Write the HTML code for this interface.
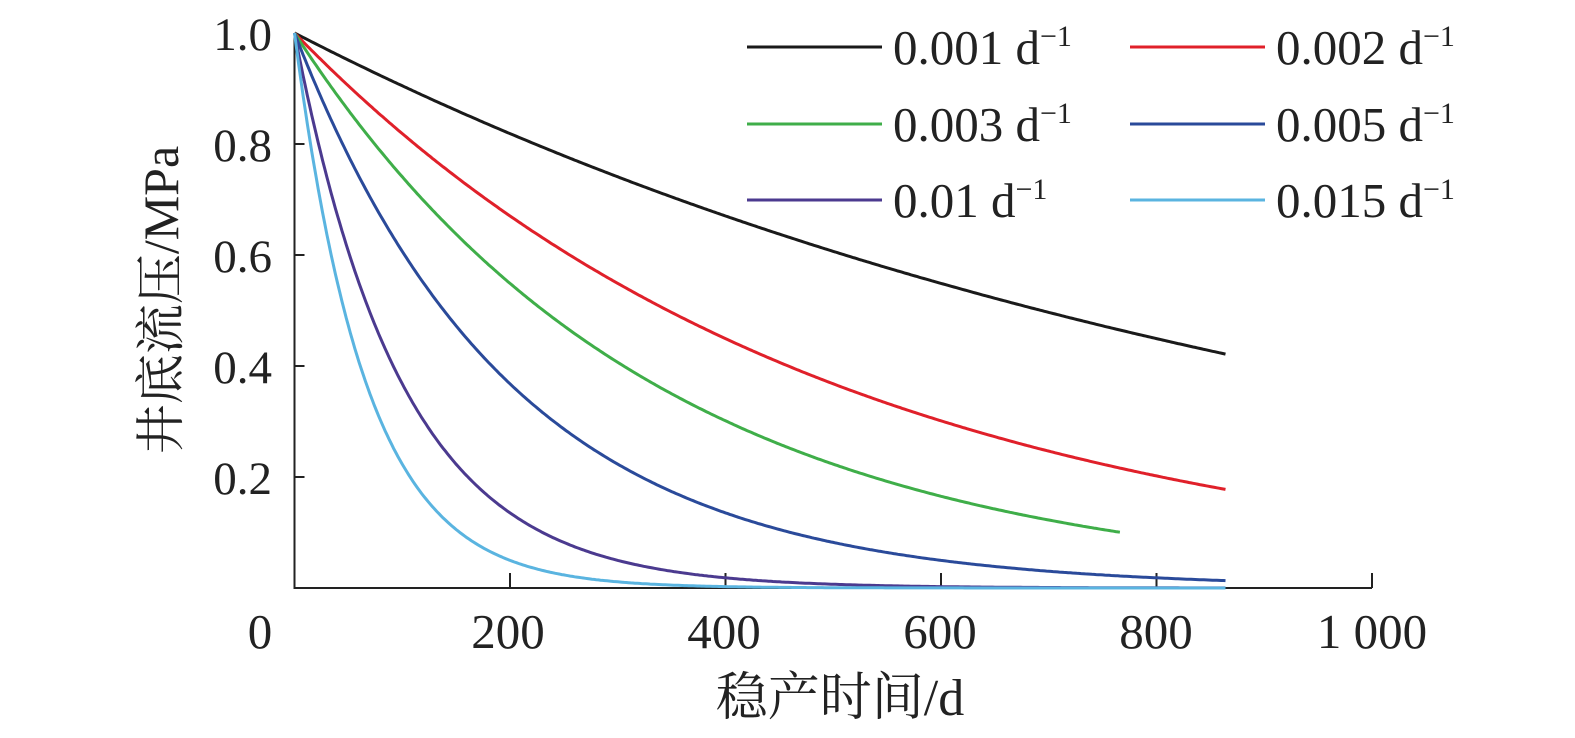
<!DOCTYPE html>
<html><head><meta charset="utf-8"><style>
body{margin:0;background:#fff;}
svg{display:block;}
text{font-family:"Liberation Serif","Noto Serif CJK SC",serif;fill:#222;}
</style></head><body>
<svg id="s" width="1575" height="738" viewBox="0 0 1575 738" xmlns="http://www.w3.org/2000/svg">
<g stroke="#222" stroke-width="2" fill="none">
<path d="M294.5 33 V588 H1372"/>
<path d="M294.5 144 h10 M294.5 255 h10 M294.5 366 h10 M294.5 477 h10"/>
<path d="M510 588 v-15 M725.5 588 v-15 M941 588 v-15 M1156.5 588 v-15 M1372 588 v-15"/>
</g>
<g font-size="47" text-anchor="end">
<text x="272" y="50">1.0</text>
<text x="272" y="161">0.8</text>
<text x="272" y="272">0.6</text>
<text x="272" y="383">0.4</text>
<text x="272" y="494">0.2</text>
</g>
<g font-size="49" text-anchor="middle">
<text x="260" y="648">0</text>
<text x="508" y="648">200</text>
<text x="724" y="648">400</text>
<text x="940" y="648">600</text>
<text x="1156" y="648">800</text>
<text x="1372" y="648">1 000</text>
<text x="840" y="715" font-size="52">稳产时间/d</text>
<text transform="translate(178,300) rotate(-90)" font-size="50">井底流压/MPa</text>
</g>
<g id="curves" fill="none" stroke-width="3"></g>
<g stroke-width="3">
<line x1="747" y1="47" x2="882" y2="47" stroke="#1a1a1a"/>
<line x1="1130" y1="47" x2="1265" y2="47" stroke="#e0202a"/>
<line x1="747" y1="124" x2="882" y2="124" stroke="#3fae49"/>
<line x1="1130" y1="124" x2="1265" y2="124" stroke="#2a4a9a"/>
<line x1="747" y1="200" x2="882" y2="200" stroke="#4b3a8f"/>
<line x1="1130" y1="200" x2="1265" y2="200" stroke="#5ab4e0"/>
</g>
<g font-size="49">
<text x="893" y="64">0.001 d<tspan dy="-18" font-size="30">−1</tspan></text>
<text x="1276" y="64">0.002 d<tspan dy="-18" font-size="30">−1</tspan></text>
<text x="893" y="141">0.003 d<tspan dy="-18" font-size="30">−1</tspan></text>
<text x="1276" y="141">0.005 d<tspan dy="-18" font-size="30">−1</tspan></text>
<text x="893" y="217">0.01 d<tspan dy="-18" font-size="30">−1</tspan></text>
<text x="1276" y="217">0.015 d<tspan dy="-18" font-size="30">−1</tspan></text>
</g>
</svg>
<script>
var series=[[0.001,"#1a1a1a",864],[0.002,"#e0202a",864],[0.003,"#3fae49",767],[0.005,"#2a4a9a",864],[0.01,"#4b3a8f",864],[0.015,"#5ab4e0",864]];
var g=document.getElementById("curves");
series.forEach(function(s){
 var d="";
 for(var t=0;t<=s[2];t+=2){
  var x=294.5+t*1.0775, y=588-555*Math.exp(-s[0]*t);
  d+=(t?"L":"M")+x.toFixed(1)+" "+y.toFixed(1);
 }
 var p=document.createElementNS("http://www.w3.org/2000/svg","path");
 p.setAttribute("d",d);p.setAttribute("stroke",s[1]);
 g.appendChild(p);
});
</script>
</body></html>
